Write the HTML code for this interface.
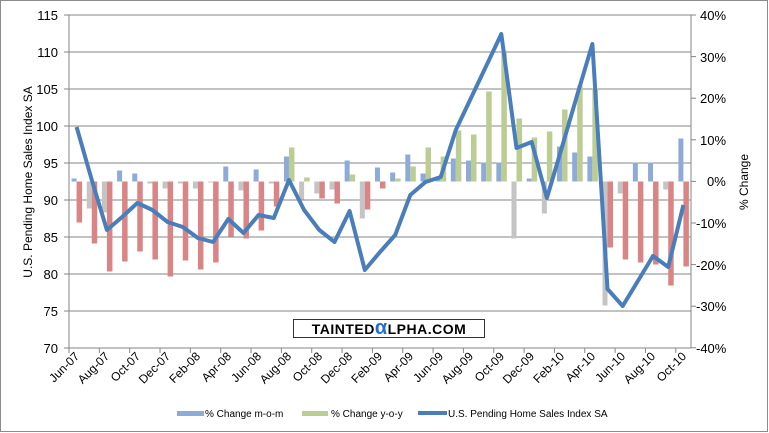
<!DOCTYPE html>
<html><head><meta charset="utf-8"><style>
body{margin:0;background:#fff}
svg{display:block;font-family:"Liberation Sans",sans-serif}
</style></head><body>
<svg id="s" width="769" height="433" viewBox="0 0 769 433" xmlns="http://www.w3.org/2000/svg">
<rect x="0.5" y="0.5" width="767" height="431" fill="#fff" stroke="#8c8c8c"/>
<g id="grid" stroke="#868686" stroke-width="1"></g>
<g id="bars"></g>
<polyline id="ln" fill="none" stroke="#4a7ebb" stroke-width="4" stroke-linejoin="round" points=""/>
<line x1="69" y1="15" x2="69" y2="348" stroke="#868686"/>
<line x1="691" y1="15" x2="691" y2="348" stroke="#868686"/>
<g font-size="13" fill="#000" text-anchor="end">
<text x="58" y="20">115</text><text x="58" y="57">110</text><text x="58" y="94">105</text><text x="58" y="131">100</text><text x="58" y="168">95</text><text x="58" y="205">90</text><text x="58" y="242">85</text><text x="58" y="279">80</text><text x="58" y="316">75</text><text x="58" y="353">70</text>
</g>
<g font-size="13" fill="#000" text-anchor="start">
<text x="700" y="20">40%</text><text x="700" y="62">30%</text><text x="700" y="103">20%</text><text x="700" y="145">10%</text><text x="707" y="186">0%</text><text x="696" y="228">-10%</text><text x="696" y="270">-20%</text><text x="696" y="311">-30%</text><text x="696" y="353">-40%</text>
</g>
<text transform="translate(32,182) rotate(-90)" font-size="12" text-anchor="middle">U.S. Pending Home Sales Index SA</text>
<text transform="translate(748,182) rotate(-90)" font-size="12" text-anchor="middle">% Change</text>
<g id="xl" font-size="12" text-anchor="end">
<text transform="translate(80,357) rotate(-45)">Jun-07</text>
<text transform="translate(110,357) rotate(-45)">Aug-07</text>
<text transform="translate(141,357) rotate(-45)">Oct-07</text>
<text transform="translate(171,357) rotate(-45)">Dec-07</text>
<text transform="translate(201,357) rotate(-45)">Feb-08</text>
<text transform="translate(232,357) rotate(-45)">Apr-08</text>
<text transform="translate(262,357) rotate(-45)">Jun-08</text>
<text transform="translate(292,357) rotate(-45)">Aug-08</text>
<text transform="translate(323,357) rotate(-45)">Oct-08</text>
<text transform="translate(353,357) rotate(-45)">Dec-08</text>
<text transform="translate(383,357) rotate(-45)">Feb-09</text>
<text transform="translate(414,357) rotate(-45)">Apr-09</text>
<text transform="translate(444,357) rotate(-45)">Jun-09</text>
<text transform="translate(474,357) rotate(-45)">Aug-09</text>
<text transform="translate(505,357) rotate(-45)">Oct-09</text>
<text transform="translate(535,357) rotate(-45)">Dec-09</text>
<text transform="translate(565,357) rotate(-45)">Feb-10</text>
<text transform="translate(596,357) rotate(-45)">Apr-10</text>
<text transform="translate(626,357) rotate(-45)">Jun-10</text>
<text transform="translate(656,357) rotate(-45)">Aug-10</text>
<text transform="translate(687,357) rotate(-45)">Oct-10</text>
</g>
<rect x="293.5" y="319.5" width="191" height="18" fill="#fff" stroke="#333"/>
<text x="389" y="334" font-size="14" font-weight="bold" text-anchor="middle" letter-spacing="0.5">TAINTED<tspan fill="#1f6fd1" font-size="20">α</tspan>LPHA.COM</text>
<rect x="177" y="411" width="27" height="5" fill="#8eabd8"/>
<text x="205" y="417" font-size="10">% Change m-o-m</text>
<rect x="302" y="411" width="26" height="5" fill="#bccd94"/>
<text x="331" y="417" font-size="10">% Change y-o-y</text>
<rect x="418" y="411" width="29" height="4" fill="#4a7ebb"/>
<text x="448" y="417" font-size="10">U.S. Pending Home Sales Index SA</text>
</svg>
<script>
var g=document.getElementById('grid'),b=document.getElementById('bars'),NS='http://www.w3.org/2000/svg';
function el(p,t,a){var e=document.createElementNS(NS,t);for(var k in a)e.setAttribute(k,a[k]);p.appendChild(e);return e;}
for(var i=0;i<10;i++){var y=15+i*37;el(g,'line',{x1:69,x2:691,y1:y,y2:y});el(g,'line',{x1:64,x2:69,y1:y,y2:y});}
for(var i=0;i<9;i++){var y=15+i*41.6;el(g,'line',{x1:691,x2:696,y1:y,y2:y});}
for(var k=0;k<=41;k+=2){var x=69+15.17*k;el(g,'line',{x1:x,x2:x,y1:348,y2:353});}
var base=181.5;
var mom=[3,-27,-31,11,8,-2,-7,-2,-7,-1,15,-9,12,-2,25,-18,-12,-8,21,-37,14,9,27,8,2,23,21,19,19,-57,3,-32,35,29,25,-124,-12,19,19,-8,43];
var yoy=[-41,-62,-90,-80,-70,-78,-95,-79,-88,-81,-55,-57,-49,-25,34,4,-17,-22,7,-28,-7,3,15,34,25,51,47,90,131,63,44,50,72,96,93,-66,-78,-81,-83,-104,-85];
var ly=[127,180,230,217,203,210,222,227,238,242,219,233,215,218,180,210,230,242,211,270,252,235,195,182,177,130,98,66,34,148,142,198,147,95,44,289,306,281,256,267,205];
var pts=[];
for(var i=0;i<41;i++){var c=69+15.17*(i+0.5);
var m=mom[i];el(b,'rect',{x:c-5,width:5,y:m>0?base-m:base,height:Math.abs(m),fill:m>0?'#8eabd8':'#c4c4c4'});
var v=yoy[i];el(b,'rect',{x:c,width:5.5,y:v>0?base-v:base,height:Math.abs(v),fill:v>0?'#bccd94':'#d98585'});
pts.push(c.toFixed(1)+','+ly[i]);}
document.getElementById('ln').setAttribute('points',pts.join(' '));
</script>
</body></html>
